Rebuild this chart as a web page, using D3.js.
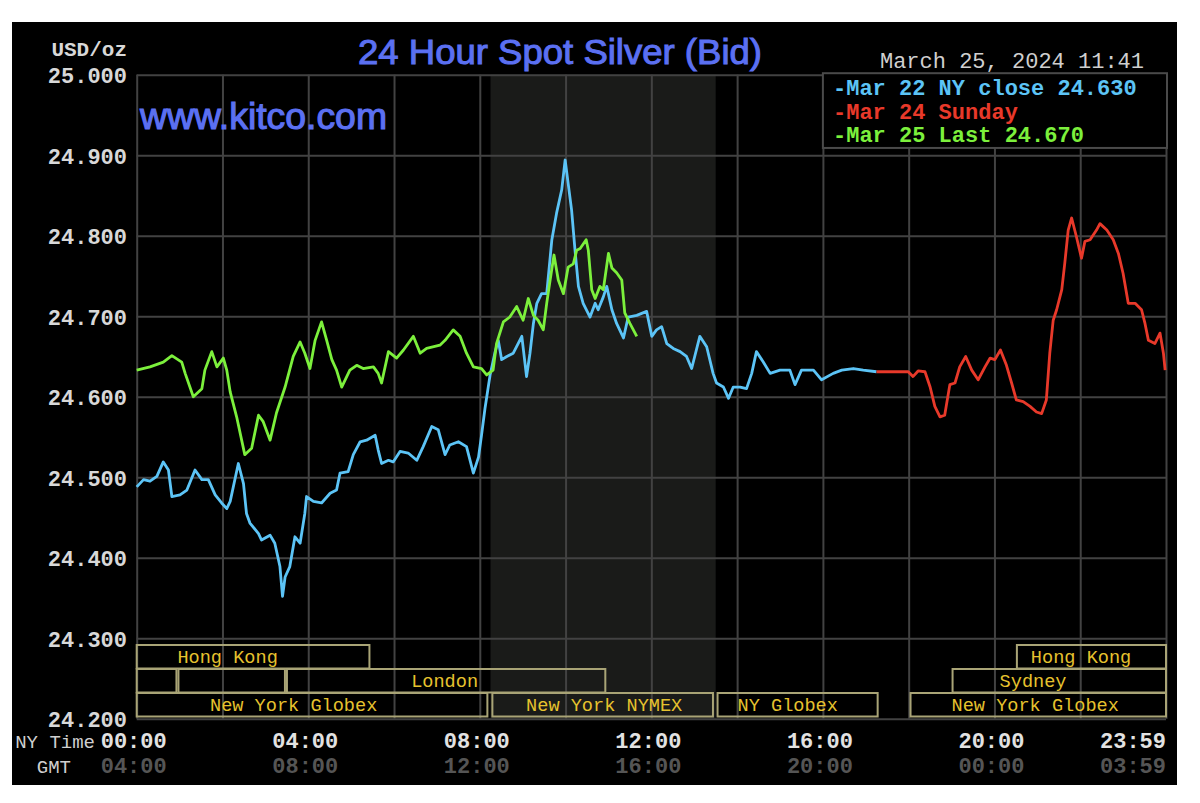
<!DOCTYPE html>
<html><head><meta charset="utf-8">
<script src="https://cdn.jsdelivr.net/npm/d3@7"></script>
<style>html,body{margin:0;padding:0;background:#fff;}svg{display:block;}</style>
</head><body>
<svg id="chart" width="1200" height="803"></svg>
<script>
// ---------------- data ----------------
const titleText = "24 Hour Spot Silver (Bid)";
const unitLabel = "USD/oz";
const watermarkText = "www.kitco.com";
const stampText = "March 25, 2024 11:41";
const yTickValues = [24.2, 24.3, 24.4, 24.5, 24.6, 24.7, 24.8, 24.9, 25.0];
const gridHours = [0, 2, 4, 6, 8, 10, 12, 14, 16, 18, 20, 22, 24];
const xTickHours = [0, 4, 8, 12, 16, 20, 23.983];
const nyTimeLabels = ["00:00", "04:00", "08:00", "12:00", "16:00", "20:00", "23:59"];
const gmtLabels = ["04:00", "08:00", "12:00", "16:00", "20:00", "00:00", "03:59"];
const legendLabels = ["-Mar 22 NY close 24.630", "-Mar 24 Sunday", "-Mar 25 Last 24.670"];
const nymexShadeHours = [8.25, 13.5];

// [hour of NY day, price]
const mar22 = [
 [0.00,24.488],[0.16,24.497],[0.31,24.495],[0.47,24.501],[0.62,24.519],[0.74,24.509],[0.82,24.476],
 [1.01,24.478],[1.17,24.484],[1.36,24.509],[1.52,24.497],[1.67,24.497],[1.83,24.478],[1.98,24.468],
 [2.10,24.461],[2.18,24.470],[2.37,24.517],[2.49,24.492],[2.56,24.455],[2.64,24.443],[2.84,24.430],
 [2.91,24.422],[3.11,24.428],[3.22,24.418],[3.34,24.389],[3.40,24.352],[3.46,24.376],[3.57,24.389],
 [3.69,24.426],[3.81,24.418],[3.92,24.455],[3.96,24.476],[4.12,24.470],[4.31,24.468],[4.51,24.480],
 [4.66,24.484],[4.74,24.505],[4.93,24.507],[5.05,24.528],[5.21,24.544],[5.36,24.546],[5.56,24.552],
 [5.63,24.534],[5.71,24.517],[5.87,24.521],[5.98,24.519],[6.14,24.532],[6.33,24.530],[6.53,24.521],
 [6.68,24.538],[6.88,24.563],[7.03,24.559],[7.19,24.528],[7.30,24.540],[7.50,24.544],[7.69,24.538],
 [7.85,24.505],[7.97,24.525],[8.04,24.552],[8.12,24.585],[8.24,24.627],[8.35,24.654],[8.43,24.670],
 [8.51,24.646],[8.63,24.650],[8.78,24.654],[8.98,24.675],[9.09,24.625],[9.17,24.654],[9.25,24.691],
 [9.33,24.716],[9.44,24.728],[9.56,24.728],[9.68,24.795],[9.79,24.828],[9.91,24.857],[9.99,24.894],
 [10.06,24.865],[10.14,24.832],[10.22,24.782],[10.30,24.737],[10.41,24.716],[10.57,24.699],[10.69,24.716],
 [10.76,24.708],[10.88,24.724],[10.96,24.737],[11.08,24.708],[11.19,24.691],[11.35,24.673],[11.46,24.699],
 [11.66,24.701],[11.89,24.706],[12.01,24.675],[12.12,24.683],[12.24,24.687],[12.36,24.666],[12.51,24.660],
 [12.67,24.656],[12.82,24.650],[12.94,24.635],[13.13,24.675],[13.29,24.662],[13.44,24.629],[13.52,24.617],
 [13.68,24.612],[13.80,24.598],[13.91,24.612],[14.07,24.612],[14.22,24.610],[14.34,24.629],[14.45,24.656],
 [14.61,24.643],[14.77,24.629],[15.00,24.633],[15.23,24.633],[15.35,24.615],[15.50,24.633],[15.78,24.633],
 [15.97,24.621],[16.24,24.629],[16.44,24.633],[16.71,24.635],[16.94,24.633],[17.25,24.631]
];
const mar24 = [
 [17.25,24.631],[17.99,24.631],[18.10,24.625],[18.22,24.632],[18.38,24.631],[18.50,24.612],[18.61,24.588],
 [18.73,24.575],[18.84,24.577],[18.96,24.615],[19.08,24.617],[19.19,24.637],[19.33,24.650],[19.47,24.633],
 [19.62,24.621],[19.78,24.637],[19.90,24.648],[20.01,24.646],[20.14,24.658],[20.28,24.639],[20.40,24.617],
 [20.51,24.596],[20.67,24.594],[20.83,24.588],[20.98,24.581],[21.10,24.579],[21.21,24.596],[21.29,24.654],
 [21.37,24.695],[21.45,24.708],[21.57,24.733],[21.64,24.766],[21.72,24.807],[21.80,24.822],[21.91,24.799],
 [22.03,24.772],[22.11,24.793],[22.23,24.795],[22.38,24.807],[22.46,24.815],[22.62,24.807],[22.77,24.795],
 [22.89,24.778],[23.00,24.753],[23.12,24.716],[23.28,24.716],[23.43,24.708],[23.51,24.691],[23.59,24.670],
 [23.74,24.666],[23.86,24.679],[23.94,24.654],[23.98,24.633]
];
const mar25 = [
 [0.00,24.633],[0.31,24.637],[0.62,24.643],[0.82,24.651],[1.05,24.643],[1.13,24.629],[1.32,24.600],
 [1.52,24.610],[1.59,24.633],[1.75,24.656],[1.87,24.637],[2.02,24.648],[2.10,24.633],[2.18,24.606],
 [2.33,24.575],[2.52,24.528],[2.68,24.536],[2.84,24.577],[2.95,24.569],[3.11,24.546],[3.26,24.580],
 [3.46,24.612],[3.65,24.650],[3.81,24.668],[3.92,24.654],[4.04,24.635],[4.16,24.670],[4.31,24.693],
 [4.43,24.670],[4.55,24.646],[4.66,24.633],[4.78,24.612],[4.97,24.633],[5.13,24.639],[5.28,24.635],
 [5.52,24.637],[5.63,24.629],[5.71,24.617],[5.87,24.656],[6.06,24.648],[6.22,24.658],[6.45,24.675],
 [6.61,24.654],[6.76,24.660],[7.07,24.664],[7.19,24.670],[7.38,24.683],[7.54,24.675],[7.69,24.654],
 [7.85,24.637],[8.04,24.635],[8.16,24.627],[8.31,24.633],[8.39,24.666],[8.55,24.693],[8.70,24.699],
 [8.86,24.712],[9.01,24.695],[9.13,24.722],[9.25,24.701],[9.36,24.695],[9.48,24.683],[9.56,24.716],
 [9.64,24.745],[9.73,24.776],[9.83,24.745],[9.95,24.728],[10.06,24.761],[10.18,24.765],[10.26,24.782],
 [10.34,24.784],[10.48,24.795],[10.53,24.782],[10.61,24.733],[10.69,24.722],[10.80,24.737],[10.88,24.733],
 [11.00,24.778],[11.08,24.760],[11.19,24.754],[11.31,24.745],[11.38,24.704],[11.50,24.691],[11.66,24.675]
];

const sessions = [
 {label:"Hong Kong",       row:0, start:0.00,  end:5.45,  at:2.12},
 {label:"",                row:1, start:0.00,  end:0.95},
 {label:"",                row:1, start:0.95,  end:3.48},
 {label:"London",          row:1, start:3.48,  end:10.95, at:7.18},
 {label:"New York Globex", row:2, start:0.00,  end:8.20,  at:3.66},
 {label:"New York NYMEX",  row:2, start:8.27,  end:13.46, at:10.90},
 {label:"NY Globex",       row:2, start:13.52, end:17.30, at:15.18},
 {label:"New York Globex", row:2, start:18.02, end:24.00, at:20.95},
 {label:"Sydney",          row:1, start:19.00, end:24.00, at:20.90},
 {label:"Hong Kong",       row:0, start:20.50, end:24.00, at:22.02}
];

// ---------------- drawing ----------------
const svg = d3.select("#chart");
const MONO = "'Liberation Mono', 'DejaVu Sans Mono', monospace";
const SANS = "'Liberation Sans', Arial, sans-serif";
const colors = {mar22:"#5cc4f6", mar24:"#e8392a", mar25:"#7cf03c", title:"#5b70f2",
  grid:"#424242", shade:"#1a1b19", box:"#a9a476", boxText:"#e6c22e"};

svg.append("rect").attr("x",12).attr("y",22).attr("width",1165).attr("height",763).attr("fill","#000");

const x = d3.scaleLinear().domain([0,24]).range([136.7,1166]);
const y = d3.scaleLinear().domain([24.2,25.0]).range([718.7,74.7]);

// NYMEX shade
svg.append("rect")
  .attr("x", x(nymexShadeHours[0])).attr("width", x(nymexShadeHours[1]) - x(nymexShadeHours[0]))
  .attr("y", y(25)).attr("height", y(24.2) - y(25)).attr("fill", colors.shade);

// grid via axes
const gx = svg.append("g").attr("transform",`translate(0,${y(24.2)})`)
  .call(d3.axisBottom(x).tickValues(gridHours).tickSize(-(y(24.2)-y(25))).tickFormat(""));
const gy = svg.append("g").attr("transform",`translate(${x(0)},0)`)
  .call(d3.axisLeft(y).tickValues(yTickValues).tickSize(-(x(24)-x(0))).tickFormat(""));
[gx,gy].forEach(g=>{
  g.select(".domain").remove();
  g.selectAll("line").attr("stroke",colors.grid).attr("stroke-width",2);
});

// y tick labels
const yl = svg.append("g").attr("transform",`translate(127,0)`)
  .call(d3.axisLeft(y).tickValues(yTickValues).tickSize(0).tickPadding(0).tickFormat(d3.format(".3f")));
yl.select(".domain").remove();
yl.selectAll("text").attr("fill","#d8d8d8").attr("font-family",MONO).attr("font-weight","bold")
  .attr("font-size",22).attr("text-anchor","end").attr("dy","0.36em");

svg.append("text").attr("x",127).attr("y",56).attr("text-anchor","end")
  .attr("fill","#d8d8d8").attr("font-family",MONO).attr("font-weight","bold").attr("font-size",21)
  .text(unitLabel);

// session boxes
const rowTop = r => y(24.2) - 1.7 - (3 - r) * 24;
const sg = svg.append("g");
sessions.forEach(s=>{
  const x0 = x(s.start) + (s.start > 0 ? 1 : 0), x1 = x(s.end) - (s.end < 24 ? 1 : 0);
  sg.append("rect").attr("x",x0).attr("y",rowTop(s.row)).attr("width",x1-x0).attr("height",23.5)
    .attr("fill","none").attr("stroke",colors.box).attr("stroke-width",2);
  if (s.label) sg.append("text").attr("x",x(s.at)).attr("y",rowTop(s.row)+17.5)
    .attr("text-anchor","middle").attr("fill",colors.boxText).attr("font-family",MONO)
    .attr("font-size",18.6).text(s.label);
});

// lines
const line = d3.line().x(d=>x(d[0])).y(d=>y(d[1]));
[[mar22,colors.mar22],[mar24,colors.mar24],[mar25,colors.mar25]].forEach(([d,c])=>{
  svg.append("path").datum(d).attr("d",line).attr("fill","none").attr("stroke",c)
    .attr("stroke-width",2.8).attr("stroke-linejoin","round");
});

// legend box
const lg = svg.append("g");
lg.append("rect").attr("x",x(16)).attr("y",y(25)-1.5).attr("width",x(24)-x(16)+1)
  .attr("height",y(24.909)-y(25)+1.5).attr("fill","#000").attr("stroke","#4a4a4a").attr("stroke-width",2);
const legColors = [colors.mar22, colors.mar24, colors.mar25];
legendLabels.forEach((t,i)=>{
  lg.append("text").attr("x",833).attr("y",95 + i*23.5).attr("fill",legColors[i])
    .attr("font-family",MONO).attr("font-weight","bold").attr("font-size",22).text(t);
});

// title, watermark, stamp
svg.append("text").attr("x",560).attr("y",64).attr("text-anchor","middle").attr("fill",colors.title)
  .attr("font-family",SANS).attr("font-size",35).attr("stroke",colors.title).attr("stroke-width",1)
  .attr("textLength",404).attr("lengthAdjust","spacingAndGlyphs").text(titleText);
svg.append("text").attr("x",140).attr("y",129).attr("fill",colors.title)
  .attr("font-family",SANS).attr("font-size",36).attr("stroke",colors.title).attr("stroke-width",1.1)
  .attr("textLength",247).attr("lengthAdjust","spacingAndGlyphs").text(watermarkText);
svg.append("text").attr("x",1144).attr("y",68).attr("text-anchor","end").attr("fill","#cfcfcf")
  .attr("font-family",MONO).attr("font-size",22).text(stampText);

// x labels
const xl = svg.append("g");
xTickHours.forEach((h,i)=>{
  const last = i === xTickHours.length-1;
  const px = last ? x(24) : x(h) - 3;
  const anchor = last ? "end" : "middle";
  xl.append("text").attr("x",px).attr("y",748).attr("text-anchor",anchor).attr("fill","#e2e2e2")
    .attr("font-family",MONO).attr("font-weight","bold").attr("font-size",22).text(nyTimeLabels[i]);
  xl.append("text").attr("x",px).attr("y",773).attr("text-anchor",anchor).attr("fill","#555")
    .attr("font-family",MONO).attr("font-weight","bold").attr("font-size",22).text(gmtLabels[i]);
});
xl.append("text").attr("x",95).attr("y",748).attr("text-anchor","end").attr("fill","#cfcfcf")
  .attr("font-family",MONO).attr("font-size",19).text("NY Time");
xl.append("text").attr("x",71).attr("y",773).attr("text-anchor","end").attr("fill","#cfcfcf")
  .attr("font-family",MONO).attr("font-size",19).text("GMT");
</script>
</body></html>
